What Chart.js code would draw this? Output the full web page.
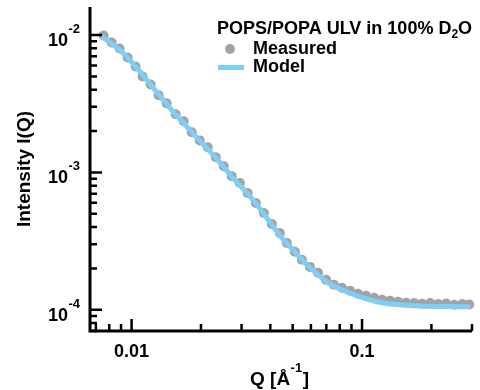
<!DOCTYPE html>
<html>
<head>
<meta charset="utf-8">
<script src="https://cdn.jsdelivr.net/npm/chart.js@4.4.1/dist/chart.umd.min.js"></script>
<style>
  html, body { margin: 0; padding: 0; background: #fff; }
  canvas { display: block; }
</style>
</head>
<body>
<canvas id="chart" width="480" height="390"></canvas>
<script>
// measured SANS curve, Q in 1/A
const measuredQ = [0.00756, 0.00819, 0.00887, 0.00961, 0.0104, 0.01116, 0.01209, 0.0131, 0.0142, 0.01553,
  0.01683, 0.01824, 0.01976, 0.0214, 0.0232, 0.0251, 0.0272, 0.0295, 0.0319, 0.0346,
  0.0375, 0.0406, 0.044, 0.0472, 0.0511, 0.0548, 0.0594, 0.0644, 0.0698, 0.0755,
  0.0818, 0.0887, 0.0961, 0.1041, 0.1128, 0.1222, 0.1323, 0.1434, 0.1553, 0.1683,
  0.1824, 0.1976, 0.214, 0.2318, 0.2512, 0.2722, 0.2919];
const measuredI = [0.00992, 0.00882, 0.00798, 0.00687, 0.0059, 0.005, 0.00437, 0.00364, 0.00318, 0.00265,
  0.00236, 0.00196, 0.00171, 0.001525, 0.00129, 0.00111, 0.000939, 0.000836, 0.000707, 0.000598,
  0.000506, 0.000421, 0.000362, 0.000306, 0.000264, 0.000231, 0.000205, 0.000186, 0.000165, 0.000152,
  0.0001445, 0.0001375, 0.0001307, 0.0001264, 0.0001222, 0.0001182, 0.0001162, 0.0001143, 0.0001124, 0.000112,
  0.0001105, 0.000112, 0.00011, 0.000111, 0.0001087, 0.00011, 0.000109];

// fitted model
const modelQ = [0.00741, 0.00835, 0.00942, 0.01062, 0.01198, 0.0135, 0.01522, 0.01717, 0.01936, 0.02183,
  0.02462, 0.02777, 0.03131, 0.03531, 0.03981, 0.04489, 0.05063, 0.0571, 0.0644, 0.0726,
  0.0818, 0.0923, 0.1041, 0.1222, 0.1449, 0.1769, 0.2273, 0.2949];
const modelI = [0.00975, 0.00846, 0.0071, 0.00566, 0.00444, 0.00349, 0.00274, 0.0022, 0.00176, 0.001427,
  0.001139, 0.000893, 0.000725, 0.000569, 0.000435, 0.000333, 0.000268, 0.000216, 0.0001795, 0.0001544,
  0.0001397, 0.0001285, 0.0001202, 0.0001124, 0.0001087, 0.0001064, 0.0001055, 0.0001051];

const xMajorTicks = [0.01, 0.1];
const xTickLabels = ['0.01', '0.1'];
const xMinorTicks = [0.007, 0.008, 0.009, 0.02, 0.03, 0.04, 0.05, 0.06, 0.07, 0.08, 0.09, 0.2, 0.3];
const yMajorTicks = [1e-4, 1e-3, 1e-2];
const yTickExponents = ['-4', '-3', '-2'];
const yMinorTicks = [7e-5, 8e-5, 9e-5,
  2e-4, 3e-4, 4e-4, 5e-4, 6e-4, 7e-4, 8e-4, 9e-4,
  2e-3, 3e-3, 4e-3, 5e-3, 6e-3, 7e-3, 8e-3, 9e-3];

const legendTitle = ['POPS/POPA ULV in 100% D', '2', 'O'];
const seriesNames = ['Measured', 'Model'];

const GRAY = '#a3a3a3';
const BLUE = '#80cdf6';
const FONT = "'Liberation Sans', Arial, Helvetica, sans-serif";

const font = (size) => `bold ${size}px ${FONT}`;

// axes, ticks, labels and legend drawn by hand (inward ticks, superscripts)
const inkAxes = {
  id: 'inkAxes',
  afterDraw(chart) {
    const { ctx, chartArea: a } = chart;
    const x = chart.scales.x;
    const y = chart.scales.y;
    ctx.save();
    ctx.strokeStyle = '#000';
    ctx.fillStyle = '#000';
    ctx.lineCap = 'butt';

    // ticks
    ctx.lineWidth = 2.5;
    ctx.beginPath();
    xMajorTicks.forEach(v => {
      const px = x.getPixelForValue(v);
      ctx.moveTo(px, a.bottom); ctx.lineTo(px, a.bottom - 12);
    });
    xMinorTicks.forEach(v => {
      const px = x.getPixelForValue(v);
      ctx.moveTo(px, a.bottom); ctx.lineTo(px, a.bottom - 7);
    });
    yMajorTicks.forEach(v => {
      const py = y.getPixelForValue(v);
      ctx.moveTo(a.left, py); ctx.lineTo(a.left + 12, py);
    });
    yMinorTicks.forEach(v => {
      const py = y.getPixelForValue(v);
      ctx.moveTo(a.left, py); ctx.lineTo(a.left + 7, py);
    });
    ctx.stroke();

    // axis lines
    ctx.lineWidth = 3;
    ctx.lineJoin = 'miter';
    ctx.beginPath();
    ctx.moveTo(a.left, a.top);
    ctx.lineTo(a.left, a.bottom);
    ctx.lineTo(a.right, a.bottom);
    ctx.stroke();

    // x tick labels
    ctx.font = font(18);
    ctx.textAlign = 'center';
    ctx.textBaseline = 'alphabetic';
    xMajorTicks.forEach((v, i) => {
      ctx.fillText(xTickLabels[i], x.getPixelForValue(v), a.bottom + 25.5);
    });

    // y tick labels: 10 with superscript exponent
    ctx.textAlign = 'right';
    yMajorTicks.forEach((v, i) => {
      const py = y.getPixelForValue(v);
      ctx.font = font(13);
      ctx.fillText(yTickExponents[i], 80, py - 2);
      const w = ctx.measureText(yTickExponents[i]).width;
      ctx.font = font(18);
      ctx.fillText('10', 80 - w - 0.5, py + 11);
    });

    // x title: Q [Å^-1]
    ctx.textAlign = 'left';
    let tx = 250;
    ctx.font = font(19);
    ctx.fillText('Q [Å', tx, 385);
    tx += ctx.measureText('Q [Å').width;
    ctx.font = font(13);
    ctx.fillText('-1', tx + 0.5, 372);
    tx += ctx.measureText('-1').width + 1;
    ctx.font = font(19);
    ctx.fillText(']', tx, 385);

    // y title
    ctx.save();
    ctx.translate(30, 169);
    ctx.rotate(-Math.PI / 2);
    ctx.textAlign = 'center';
    ctx.font = font(19);
    ctx.fillText('Intensity I(Q)', 0, 0);
    ctx.restore();

    // legend
    ctx.textAlign = 'left';
    let lx = 217;
    ctx.font = font(18);
    ctx.fillText(legendTitle[0], lx, 34);
    lx += ctx.measureText(legendTitle[0]).width;
    ctx.font = font(12);
    ctx.fillText(legendTitle[1], lx, 38);
    lx += ctx.measureText(legendTitle[1]).width;
    ctx.font = font(18);
    ctx.fillText(legendTitle[2], lx, 34);

    ctx.fillStyle = GRAY;
    ctx.beginPath();
    ctx.arc(230, 49, 5, 0, Math.PI * 2);
    ctx.fill();
    ctx.strokeStyle = BLUE;
    ctx.lineWidth = 5;
    ctx.beginPath();
    ctx.moveTo(218, 67.5); ctx.lineTo(244, 67.5);
    ctx.stroke();

    ctx.fillStyle = '#000';
    ctx.font = font(18);
    ctx.fillText(seriesNames[0], 253, 54);
    ctx.fillText(seriesNames[1], 253, 72);
    ctx.restore();
  }
};

const toPoints = (xs, ys) => xs.map((q, i) => ({ x: q, y: ys[i] }));

new Chart(document.getElementById('chart'), {
  type: 'scatter',
  data: {
    datasets: [
      {
        label: seriesNames[1],
        data: toPoints(modelQ, modelI),
        showLine: true,
        borderColor: BLUE,
        borderWidth: 5,
        pointRadius: 0,
        cubicInterpolationMode: 'monotone',
        clip: false,
      },
      {
        label: seriesNames[0],
        data: toPoints(measuredQ, measuredI),
        backgroundColor: GRAY,
        borderWidth: 0,
        pointRadius: 5,
        clip: false,
      },
    ],
  },
  options: {
    responsive: false,
    devicePixelRatio: 1,
    animation: false,
    layout: { padding: { left: 0, top: 7, right: 8, bottom: 0 } },
    plugins: {
      legend: { display: false },
      tooltip: { enabled: false },
    },
    scales: {
      x: {
        type: 'logarithmic',
        min: 0.0066,
        max: 0.3,
        grid: { display: false },
        border: { display: false },
        ticks: { display: false },
        afterFit: (scale) => { scale.height = 59; },
      },
      y: {
        type: 'logarithmic',
        min: 7e-5,
        max: 0.016,
        grid: { display: false },
        border: { display: false },
        ticks: { display: false },
        afterFit: (scale) => { scale.width = 90; },
      },
    },
  },
  plugins: [inkAxes],
});
</script>
</body>
</html>
